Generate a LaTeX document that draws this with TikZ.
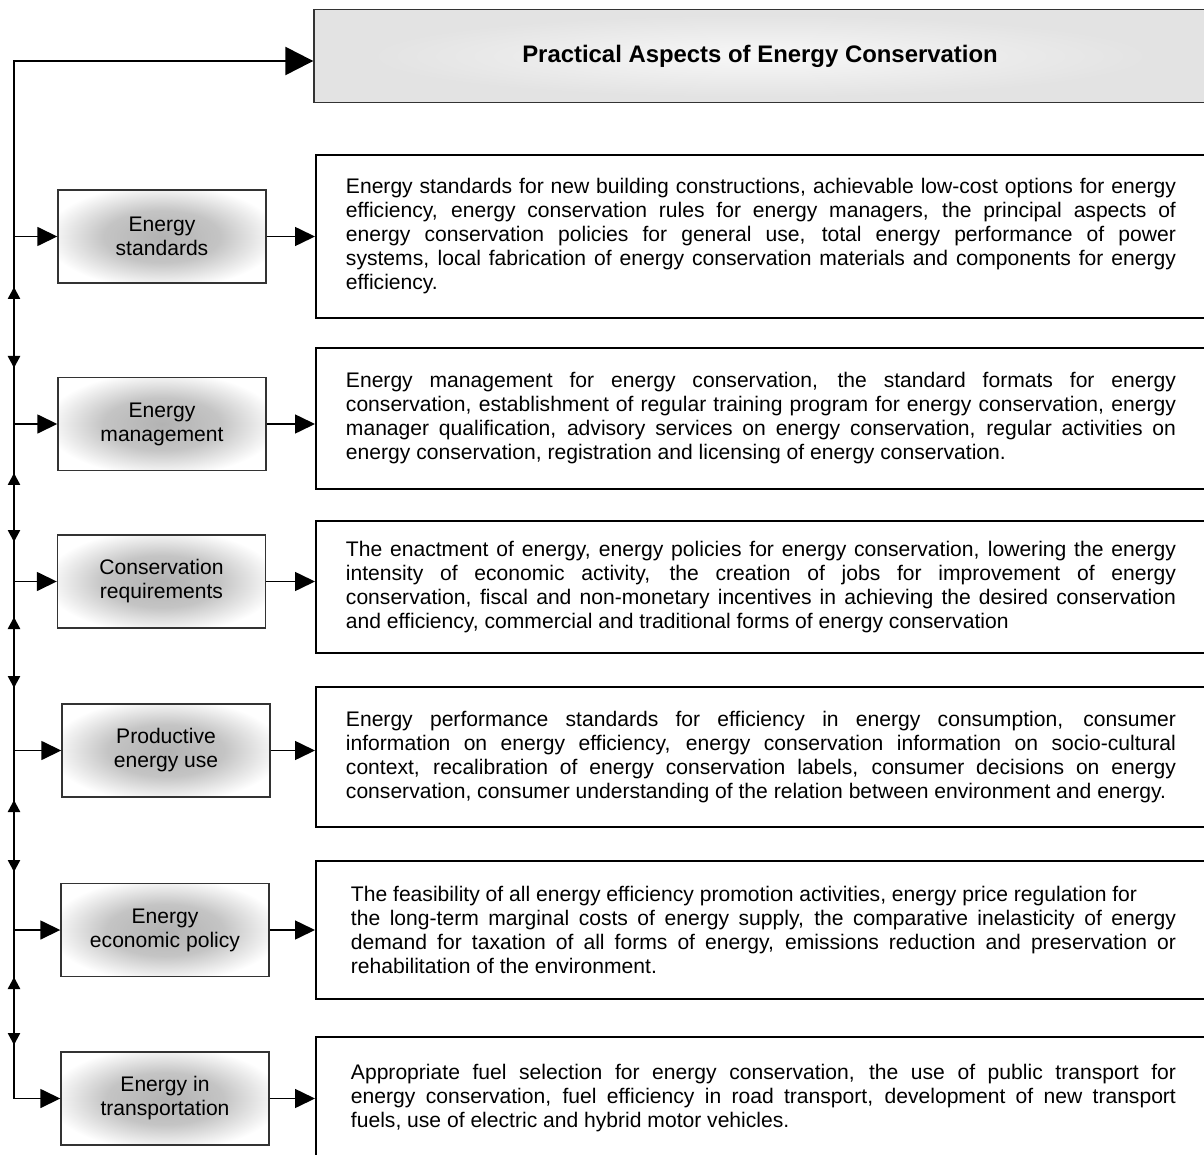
\documentclass[tikz,border=0pt]{standalone}
\usepackage{fontspec}
\setmainfont{Liberation Sans}
\usepackage{tikz}
\usetikzlibrary{arrows.meta}
\hyphenpenalty=10000
\exhyphenpenalty=10000
\pgfdeclareradialshading{glow}{\pgfpoint{0bp}{0bp}}{color(0bp)=(black!30); color(14bp)=(black!23); color(28bp)=(white); color(50bp)=(white)}
\pgfdeclareradialshading{titleglow}{\pgfpoint{0bp}{0bp}}{color(0bp)=(black!3); color(22bp)=(black!11); color(50bp)=(black!11)}

\begin{document}
\begin{tikzpicture}[
  lbox/.style={draw=black!80,line width=0.4pt,shade,shading=glow,minimum width=2.08cm,minimum height=0.93cm,align=center,font=\fontsize{6}{6.83}\selectfont},
  dbox/.style={draw,line width=0.55pt,anchor=west,inner xsep=0.30cm,text width=8.30cm,align=justify,font=\fontsize{6}{6.83}\selectfont},
  spine/.style={line width=0.7pt},
  link/.style={line width=0.45pt,-{Triangle[length=0.2cm,width=0.19cm]}},
  tip/.style={{Triangle[length=0.12cm,width=0.12cm]}-{Triangle[length=0.12cm,width=0.12cm]}}
]
\useasboundingbox (0,0) rectangle (12.04,-11.55);
\node[draw=black!80,line width=0.4pt,shade,shading=titleglow,minimum width=8.92cm,minimum height=0.93cm,font=\bfseries\fontsize{6.8}{8}\selectfont] (title) at (7.60,-0.56) {Practical Aspects of Energy Conservation};
% aspects on the left
\foreach \n/\x/\y/\t in {std/1.62/2.365/{Energy\\standards},mgmt/1.62/4.24/{Energy\\management},req/1.615/5.815/{Conservation\\requirements},prod/1.66/7.505/{Productive\\energy use},econ/1.65/9.30/{Energy\\economic policy},trans/1.65/10.985/{Energy in\\transportation}}
  \node[lbox] (\n) at (\x,-\y) {\t};
% descriptions on the right
\node[dbox,minimum height=1.63cm] (dstd) at (3.15,-2.365) {Energy standards for new building constructions, achievable low-cost options for energy\linebreak efficiency, energy conservation rules for energy managers, the principal aspects of\linebreak energy conservation policies for general use, total energy performance of power\linebreak systems, local fabrication of energy conservation materials and components for energy\linebreak efficiency.};
\node[dbox,minimum height=1.41cm] (dmgmt) at (3.15,-4.185) {Energy management for energy conservation, the standard formats for energy\linebreak conservation, establishment of regular training program for energy conservation, energy\linebreak manager qualification, advisory services on energy conservation, regular activities on\linebreak energy conservation, registration and licensing of energy conservation.};
\node[dbox,minimum height=1.32cm] (dreq) at (3.15,-5.87) {The enactment of energy, energy policies for energy conservation, lowering the energy\linebreak intensity of economic activity, the creation of jobs for improvement of energy\linebreak conservation, fiscal and non-monetary incentives in achieving the desired conservation\linebreak and efficiency, commercial and traditional forms of energy conservation};
\node[dbox,minimum height=1.40cm] (dprod) at (3.15,-7.57) {Energy performance standards for efficiency in energy consumption, consumer\linebreak information on energy efficiency, energy conservation information on socio-cultural\linebreak context, recalibration of energy conservation labels, consumer decisions on energy\linebreak conservation, consumer understanding of the relation between environment and energy.};
\node[dbox,minimum height=1.38cm,inner xsep=0.35cm,text width=8.25cm] (decon) at (3.15,-9.30) {The feasibility of all energy efficiency promotion activities, energy price regulation for\newline the long-term marginal costs of energy supply, the comparative inelasticity of energy\linebreak demand for taxation of all forms of energy, emissions reduction and preservation or\linebreak rehabilitation of the environment.};
\node[dbox,minimum height=1.23cm,inner xsep=0.35cm,text width=8.25cm] (dtrans) at (3.15,-10.985) {Appropriate fuel selection for energy conservation, the use of public transport for\linebreak energy conservation, fuel efficiency in road transport, development of new transport\linebreak fuels, use of electric and hybrid motor vehicles.};
% spine
\coordinate (top) at (0.14,-0.61);
\coordinate (bot) at (0.14,-10.985);
\draw[spine,-{Triangle[length=0.28cm,width=0.28cm]}] (bot) -- (top) -- (top -| title.west);
\foreach \i/\a/\b in {1/2.87/3.68,2/4.73/5.42,3/6.17/6.88,4/8.00/8.72,5/9.77/10.45}
  {\coordinate (up\i) at (0.14,-\a); \coordinate (dn\i) at (0.14,-\b);
   \draw[spine,tip] (up\i) -- (dn\i);}
\foreach \n/\d in {std/dstd,mgmt/dmgmt,req/dreq,prod/dprod,econ/decon,trans/dtrans}
  {\draw[link] (bot |- \n.west) -- (\n.west);
   \draw[link] (\n.east) -- (\n.east -| \d.west);}
\end{tikzpicture}
\end{document}
